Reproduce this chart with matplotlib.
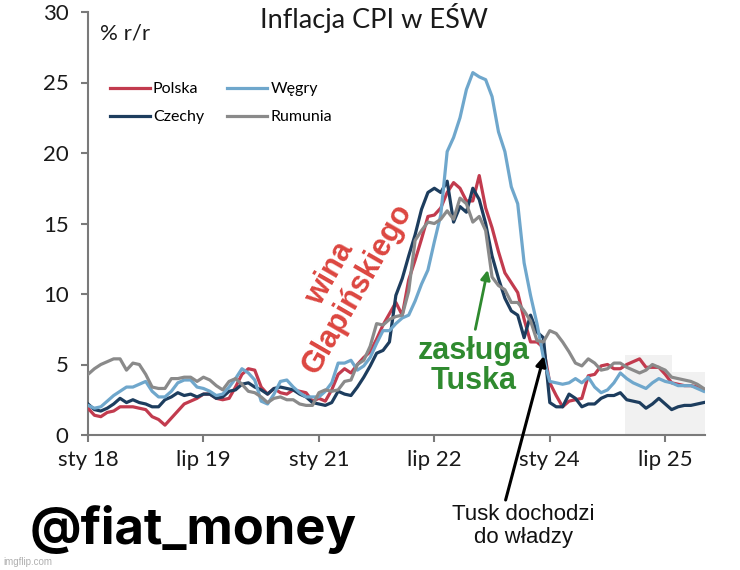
import matplotlib
matplotlib.use("Agg")
import matplotlib.pyplot as plt
from matplotlib.patches import Rectangle

# ----------------------------------------------------------------------------
# Data: monthly CPI y/y, sty 2018 .. sty 2026 (97 months)
# ----------------------------------------------------------------------------
months = list(range(97))
x_ticks = [0, 18, 36, 54, 72, 90]
x_tick_labels = ["sty 18", "lip 19", "sty 21", "lip 22", "sty 24", "lip 25"]
y_ticks = [0, 5, 10, 15, 20, 25, 30]

polska = [
    1.9, 1.4, 1.3, 1.6, 1.7, 2.0, 2.0, 2.0, 1.9, 1.8, 1.3, 1.1,
    0.7, 1.2, 1.7, 2.2, 2.4, 2.6, 2.9, 2.9, 2.6, 2.5, 2.6, 3.4,
    4.3, 4.7, 4.6, 3.4, 2.9, 3.3, 3.0, 2.9, 3.2, 3.1, 3.0, 2.4,
    2.6, 2.4, 3.2, 4.3, 4.7, 4.4, 5.0, 5.5, 5.9, 6.8, 7.8, 8.6,
    9.4, 8.5, 11.0, 12.4, 13.9, 15.5, 15.6, 16.1, 17.2, 17.9, 17.5, 16.6,
    16.6, 18.4, 16.1, 14.7, 13.0, 11.5, 10.8, 10.1, 8.2, 6.6, 6.6, 6.2,
    3.7, 2.8, 2.0, 2.4, 2.5, 2.6, 4.2, 4.3, 4.9, 5.0, 4.7, 4.7,
    5.0, 5.2, 5.4, 4.8, 4.8, 4.8, 4.3, 3.7, 3.6, 3.5, 3.5, 3.4,
    3.2,
]
czechy = [
    2.2, 1.8, 1.7, 1.9, 2.2, 2.6, 2.3, 2.5, 2.3, 2.2, 2.0, 2.0,
    2.5, 2.7, 3.0, 2.8, 2.9, 2.7, 2.9, 2.9, 2.6, 2.7, 3.1, 3.2,
    3.6, 3.7, 3.4, 3.2, 2.9, 3.3, 3.4, 3.3, 3.2, 2.9, 2.7, 2.3,
    2.2, 2.1, 2.3, 3.1, 2.9, 2.8, 3.4, 4.1, 4.9, 5.8, 6.0, 6.6,
    9.9, 11.1, 12.7, 14.2, 16.0, 17.2, 17.5, 17.2, 18.0, 15.1, 16.2, 15.8,
    17.5, 16.7, 15.0, 12.7, 11.1, 9.7, 8.8, 8.5, 6.9, 8.5, 7.3, 6.9,
    2.3, 2.0, 2.0, 2.9, 2.6, 2.0, 2.2, 2.2, 2.6, 2.8, 2.8, 3.0,
    2.5, 2.4, 2.3, 1.9, 2.2, 2.6, 2.2, 1.8, 2.0, 2.1, 2.1, 2.2,
    2.3,
]
wegry = [
    2.1, 1.9, 2.0, 2.4, 2.8, 3.1, 3.4, 3.4, 3.6, 3.8, 3.1, 2.7,
    2.7, 3.1, 3.7, 3.9, 3.9, 3.4, 3.3, 3.1, 2.8, 2.9, 3.4, 4.0,
    4.7, 4.4, 3.9, 2.4, 2.2, 2.9, 3.8, 3.9, 3.4, 3.0, 2.7, 2.7,
    2.7, 3.1, 3.7, 5.1, 5.1, 5.3, 4.6, 4.9, 5.5, 6.5, 7.4, 7.4,
    7.9, 8.3, 8.5, 9.5, 10.7, 11.7, 13.7, 15.6, 20.1, 21.1, 22.5, 24.5,
    25.7, 25.4, 25.2, 24.0, 21.5, 20.1, 17.6, 16.4, 12.2, 9.9, 7.9, 5.5,
    3.8, 3.7, 3.6, 3.7, 4.0, 3.7, 4.1, 3.4, 3.0, 3.2, 3.7, 4.4,
    4.0, 3.7, 3.5, 3.3, 3.7, 4.0, 3.8, 3.7, 3.5, 3.5, 3.5, 3.3,
    3.1,
]
rumunia = [
    4.3, 4.7, 5.0, 5.2, 5.4, 5.4, 4.6, 5.1, 5.0, 4.3, 3.4, 3.3,
    3.3, 4.0, 4.0, 4.1, 4.1, 3.8, 4.1, 3.9, 3.5, 3.2, 3.8, 4.0,
    3.6, 3.1, 3.0, 2.7, 2.3, 2.6, 2.7, 2.5, 2.5, 2.2, 2.1, 2.1,
    3.0, 3.2, 3.1, 3.2, 3.8, 3.9, 5.0, 5.3, 6.3, 7.9, 7.8, 8.2,
    8.4, 8.5, 10.2, 13.8, 14.5, 15.1, 15.0, 15.3, 15.9, 15.3, 16.8, 16.4,
    15.1, 15.5, 14.5, 11.2, 10.6, 10.3, 9.4, 9.4, 8.8, 8.1, 6.7, 6.6,
    7.4, 7.2, 6.6, 5.9, 5.1, 4.9, 5.4, 5.1, 4.6, 4.7, 5.1, 5.1,
    4.8, 4.6, 4.4, 4.6, 5.0, 4.8, 4.6, 4.1, 4.0, 3.9, 3.8, 3.6,
    3.3,
]

series = [
    ("Polska", polska, "#c23b4e"),
    ("Czechy", czechy, "#1d3d5e"),
    ("Węgry", wegry, "#6fa7cc"),
    ("Rumunia", rumunia, "#8a8a8a"),
]

W, H = 740, 570
AXIS_GREY = "#7a7a7a"


def fx(px):
    return px / W


def fy(py):
    return 1 - py / H


fig = plt.figure(figsize=(W / 100, H / 100), dpi=100)
ax = fig.add_axes([fx(88), 1 - 435 / H, 617 / W, 423 / H])

# forecast shading
ax.add_patch(Rectangle((83.7, 0.1), 7.3, 5.6, color="#f1f1f1", lw=0, zorder=0))
ax.add_patch(Rectangle((91.0, 0.1), 5.2, 4.4, color="#f1f1f1", lw=0, zorder=0))

for name, values, color in series:
    ax.plot(months, values, color=color, lw=2.3, label=name,
            solid_joinstyle="round", zorder=3)

ax.set_xlim(0, 96.2)
ax.set_ylim(0, 30)
ax.set_xticks(x_ticks)
ax.set_xticklabels(x_tick_labels)
ax.set_yticks(y_ticks)

for side in ("top", "right"):
    ax.spines[side].set_visible(False)
for side in ("left", "bottom"):
    ax.spines[side].set_color(AXIS_GREY)
    ax.spines[side].set_linewidth(1.5)

ax.tick_params(axis="both", direction="out", length=5, width=1.5,
               color=AXIS_GREY, labelsize=16, labelcolor="#1a1a1a")
ax.tick_params(axis="y", pad=9)
ax.tick_params(axis="x", pad=6)
for lab in ax.get_xticklabels() + ax.get_yticklabels():
    lab.set_family("Lato")

leg = ax.legend(ncol=2, loc="upper left", bbox_to_anchor=(0.012, 0.868),
                frameon=False, handlelength=2.5,
                handletextpad=0.2, columnspacing=1.45, labelspacing=0.85,
                prop={"family": "Lato", "size": 11.5})
for line in leg.get_lines():
    line.set_linewidth(2.3)

# titles
fig.text(fx(374), fy(18), "Inflacja CPI w EŚW", ha="center", va="center",
         fontsize=19.5, family="Lato", color="#1a1a1a")
fig.text(fx(100), fy(33), "% r/r", ha="left", va="center",
         fontsize=16, family="Lato", color="#1a1a1a")

# annotations
fig.text(fx(344), fy(281), "wina\nGlapińskiego", ha="center", va="center",
         rotation=60, fontsize=22, fontweight="bold", color="#dc4640",
         family="Liberation Sans", linespacing=1.05, rotation_mode="anchor")
ax.text(60.1, 4.9, "zasługa\nTuska", ha="center", va="center",
        fontsize=22, fontweight="bold", color="#2f8a2f",
        family="Liberation Sans", linespacing=0.98)
ax.annotate("", xy=(62.4, 11.9), xytext=(60.3, 7.3),
            arrowprops=dict(arrowstyle="-|>", color="#2f8a2f", lw=2,
                            mutation_scale=14))
ax.annotate("", xy=(71.2, 5.8), xytext=(65.0, -4.8),
            arrowprops=dict(arrowstyle="-|>", color="black", lw=2.2,
                            mutation_scale=15),
            annotation_clip=False)
fig.text(fx(523), fy(526), "Tusk dochodzi\ndo władzy", ha="center",
         va="center", fontsize=16, family="Liberation Sans",
         color="#111111", linespacing=1.1)

fig.text(fx(30), fy(529), "@fiat_money", ha="left", va="center",
         fontsize=36.5, fontweight="bold", family="Inter", color="black")
fig.text(fx(3), fy(562), "imgflip.com", ha="left", va="center",
         fontsize=7, family="Liberation Sans", color="#b0b0b0")

fig.savefig("out.png", dpi=100)
plt.close(fig)
